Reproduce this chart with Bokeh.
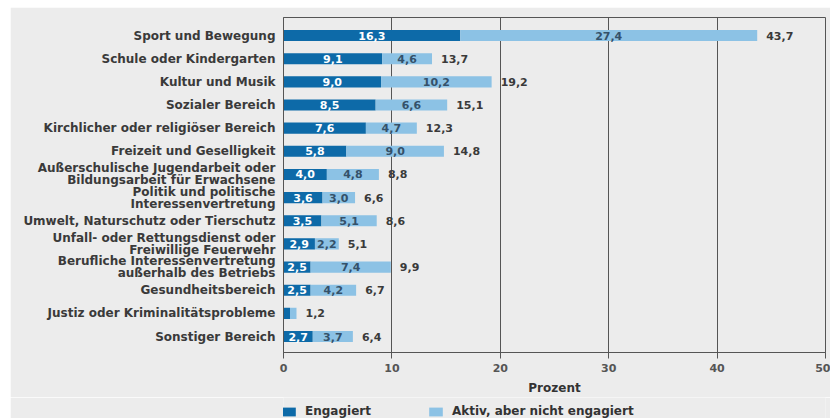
from bokeh.plotting import figure
from bokeh.layouts import column
from bokeh.models import ColumnDataSource, FixedTicker, LabelSet, Range1d, Legend, LegendItem
from bokeh.core.properties import value
from bokeh.embed import file_html
from bokeh.resources import INLINE

categories = [
    "Sport und Bewegung",
    "Schule oder Kindergarten",
    "Kultur und Musik",
    "Sozialer Bereich",
    "Kirchlicher oder religiöser Bereich",
    "Freizeit und Geselligkeit",
    "Außerschulische Jugendarbeit oder\nBildungsarbeit für Erwachsene",
    "Politik und politische\nInteressenvertretung",
    "Umwelt, Naturschutz oder Tierschutz",
    "Unfall- oder Rettungsdienst oder\nFreiwillige Feuerwehr",
    "Berufliche Interessenvertretung\naußerhalb des Betriebs",
    "Gesundheitsbereich",
    "Justiz oder Kriminalitätsprobleme",
    "Sonstiger Bereich",
]
engagiert = [16.3, 9.1, 9.0, 8.5, 7.6, 5.8, 4.0, 3.6, 3.5, 2.9, 2.5, 2.5, 0.6, 2.7]
aktiv = [27.4, 4.6, 10.2, 6.6, 4.7, 9.0, 4.8, 3.0, 5.1, 2.2, 7.4, 4.2, 0.6, 3.7]
gesamt = [43.7, 13.7, 19.2, 15.1, 12.3, 14.8, 8.8, 6.6, 8.6, 5.1, 9.9, 6.7, 1.2, 6.4]
x_ticks = [0, 10, 20, 30, 40, 50]
series_names = ["Engagiert", "Aktiv, aber nicht engagiert"]

DARK = "#0d6aa8"
LIGHT = "#8cc2e5"
BG = "#ececec"
FONT = "DejaVu Sans"
W = 820
BL, BR = 273, 5

def fmt(v):
    return f"{v:.1f}".replace(".", ",")

ypos = list(range(len(categories)))

src = ColumnDataSource(dict(
    y=ypos,
    eng=engagiert,
    left2=engagiert,
    right2=[e + a for e, a in zip(engagiert, aktiv)],
    eng_mid=[e / 2 for e in engagiert],
    akt_mid=[e + a / 2 for e, a in zip(engagiert, aktiv)],
    tot=gesamt,
    eng_lbl=[fmt(v) if v >= 1 else "" for v in engagiert],
    akt_lbl=[fmt(v) if v >= 1 else "" for v in aktiv],
    tot_lbl=[fmt(v) for v in gesamt],
))

# y-axis label ticks: two-line categories get one tick per line
LINE_SHIFT = 0.26
tick_pos, overrides = [], {}
for i, c in enumerate(categories):
    lines = c.split("\n")
    if len(lines) == 1:
        tick_pos.append(i)
        overrides[i] = lines[0]
    else:
        for k, ln in enumerate(lines):
            t = round(i + (k - 0.5) * 2 * LINE_SHIFT, 4)
            tick_pos.append(t)
            overrides[t] = ln

p = figure(width=W, height=390, x_range=(0, 50),
           y_range=Range1d(len(categories) - 1 + 0.69, -0.78),
           output_backend="svg", toolbar_location=None,
           min_border_left=BL, min_border_right=BR, min_border_top=10,
           min_border_bottom=45)

p.background_fill_color = BG
p.border_fill_color = BG
p.outline_line_color = "#555555"
p.outline_line_width = 1

r1 = p.hbar(y="y", left=0, right="eng", height=0.48, source=src,
            fill_color=DARK, line_color=None)
r2 = p.hbar(y="y", left="left2", right="right2", height=0.48, source=src,
            fill_color=LIGHT, line_color=None)

TXT = dict(text_font=value(FONT), text_font_style="bold", text_baseline="middle")
p.add_layout(LabelSet(x="eng_mid", y="y", text="eng_lbl", source=src,
                      text_align="center", text_font_size="11px",
                      text_color="white", **TXT))
p.add_layout(LabelSet(x="akt_mid", y="y", text="akt_lbl", source=src,
                      text_align="center", text_font_size="11px",
                      text_color="#34516a", **TXT))
p.add_layout(LabelSet(x="tot", y="y", text="tot_lbl", source=src,
                      x_offset=9, text_align="left", text_font_size="11px",
                      text_color="#3a3a3a", **TXT))

# grid
p.ygrid.grid_line_color = None
p.xgrid.ticker = FixedTicker(ticks=x_ticks)
p.xgrid.grid_line_color = "#555555"
p.xgrid.grid_line_width = 1

# x axis
xa = p.xaxis[0]
xa.ticker = FixedTicker(ticks=x_ticks)
xa.axis_label = "Prozent"
xa.axis_label_text_font = FONT
xa.axis_label_text_font_style = "bold"
xa.axis_label_text_font_size = "12px"
xa.axis_label_text_color = "#333333"
xa.axis_label_standoff = 6
xa.major_label_text_font = FONT
xa.major_label_text_font_style = "bold"
xa.major_label_text_font_size = "11px"
xa.major_label_text_color = "#555555"
xa.major_tick_in = 0
xa.major_tick_out = 6
xa.minor_tick_line_color = None
xa.axis_line_color = "#555555"
xa.major_tick_line_color = "#555555"

# y axis
ya = p.yaxis[0]
ya.ticker = FixedTicker(ticks=tick_pos)
ya.major_label_overrides = overrides
ya.major_tick_out = 0
ya.major_tick_in = 0
ya.minor_tick_line_color = None
ya.axis_line_color = "#555555"
ya.major_label_standoff = 8
ya.major_label_text_font = FONT
ya.major_label_text_font_style = "bold"
ya.major_label_text_font_size = "12px"
ya.major_label_text_color = "#3a3a3a"

# legend strip below the chart (same frame alignment as the chart)
lf = figure(width=W, height=21, x_range=(1000, 1001), y_range=(1000, 1001),
            output_backend="svg", toolbar_location=None,
            min_border_left=BL, min_border_right=BR, min_border_top=0,
            min_border_bottom=0, outline_line_color=None)
lf.axis.visible = False
lf.grid.visible = False
lf.background_fill_color = BG
lf.border_fill_color = BG
d1 = lf.hbar(y="y", left=0, right="eng", height=0.48, source=src,
             fill_color=DARK, line_color=None)
d2 = lf.hbar(y="y", left="left2", right="right2", height=0.48, source=src,
             fill_color=LIGHT, line_color=None)
lg = Legend(items=[LegendItem(label=series_names[0], renderers=[d1]),
                   LegendItem(label=series_names[1], renderers=[d2])],
            orientation="horizontal", location=(-3, 0))
lg.background_fill_alpha = 0
lg.border_line_color = None
lg.padding = 0
lg.margin = 0
lg.spacing = 56
lg.glyph_width = 17
lg.glyph_height = 11
lg.label_height = 12
lg.label_standoff = 8
lg.label_text_font = FONT
lg.label_text_font_style = "bold"
lg.label_text_font_size = "12px"
lg.label_text_color = "#333333"
lf.add_layout(lg)

layout = column(p, lf, spacing=0, margin=(7, 0, 0, 10))
open("out.html", "w").write(file_html(layout, INLINE))
